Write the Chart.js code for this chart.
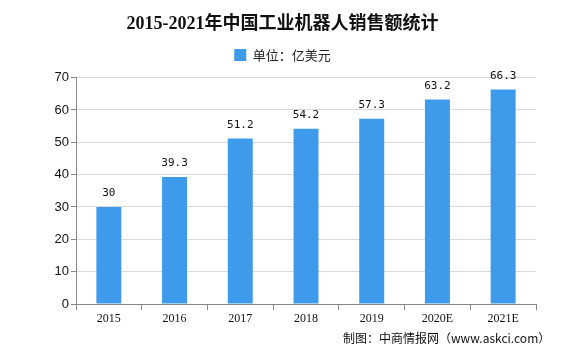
<!DOCTYPE html>
<html>
<head>
<meta charset="utf-8">
<script src="https://cdn.jsdelivr.net/npm/chart.js@4"></script>
<style>
  html, body { margin: 0; padding: 0; background: #fff; }
  #wrap { width: 565px; height: 350px; }
</style>
</head>
<body>
<div id="wrap"><canvas id="salesChart" width="565" height="350"></canvas></div>
<script>
const years = ["2015", "2016", "2017", "2018", "2019", "2020E", "2021E"];
const sales = [30, 39.3, 51.2, 54.2, 57.3, 63.2, 66.3];
const valueLabels = ["30", "39.3", "51.2", "54.2", "57.3", "63.2", "66.3"];

const barColor = "#3e9bec";

// extra room under the legend
const legendGap = {
    id: "legendGap",
    beforeInit(chart) {
        const fit = chart.legend.fit;
        chart.legend.fit = function () {
            fit.call(this);
            this.height += 6;
        };
    }
};

// value labels above the bars + footer note
const extras = {
    id: "extras",
    afterDatasetsDraw(chart) {
        const ctx = chart.ctx;
        const meta = chart.getDatasetMeta(0);
        ctx.save();
        ctx.fillStyle = "#111";
        ctx.font = "11px 'DejaVu Sans Mono'";
        ctx.textAlign = "center";
        ctx.textBaseline = "bottom";
        meta.data.forEach((bar, i) => {
            ctx.fillText(valueLabels[i], bar.x, bar.y - 8);
        });
        ctx.font = "12px 'Noto Sans CJK SC'";
        ctx.textAlign = "left";
        ctx.textBaseline = "middle";
        ctx.fillText("制图：中商情报网（www.askci.com）", 343, 338);
        ctx.restore();
    }
};

new Chart(document.getElementById("salesChart"), {
    type: "bar",
    data: {
        labels: years,
        datasets: [
            { label: "单位：亿美元", data: sales, backgroundColor: barColor, barPercentage: 0.38, categoryPercentage: 1 }
        ]
    },
    options: {
        responsive: false,
        animation: false,
        layout: { padding: { left: 29, right: 29, top: 0, bottom: 0 } },
        plugins: {
            title: {
                display: true,
                text: "2015-2021年中国工业机器人销售额统计",
                color: "#111",
                font: { family: "'Liberation Serif', 'Noto Sans CJK SC'", size: 18, weight: "bold" },
                padding: { top: 14, bottom: 4 }
            },
            legend: {
                labels: {
                    color: "#222",
                    boxWidth: 12,
                    boxHeight: 12,
                    font: { family: "'Noto Sans CJK SC'", size: 13 },
                    padding: 9
                }
            },
            tooltip: { enabled: false }
        },
        scales: {
            x: {
                grid: { display: true, drawOnChartArea: false, offset: true, tickLength: 6, color: "#888" },
                border: { color: "#888" },
                ticks: { color: "#111", font: { family: "'Liberation Serif'", size: 12 }, padding: 2 },
                afterFit(axis) { axis.height = 46; }
            },
            y: {
                min: 0, max: 70,
                ticks: { stepSize: 10, color: "#111", font: { family: "'Liberation Sans'", size: 13 }, padding: 2 },
                grid: { color: "#d9d9d9", tickLength: 5, tickColor: "#888" },
                border: { color: "#888" },
                afterFit(axis) { axis.width = 47; }
            }
        }
    },
    plugins: [legendGap, extras]
});
</script>
</body>
</html>
